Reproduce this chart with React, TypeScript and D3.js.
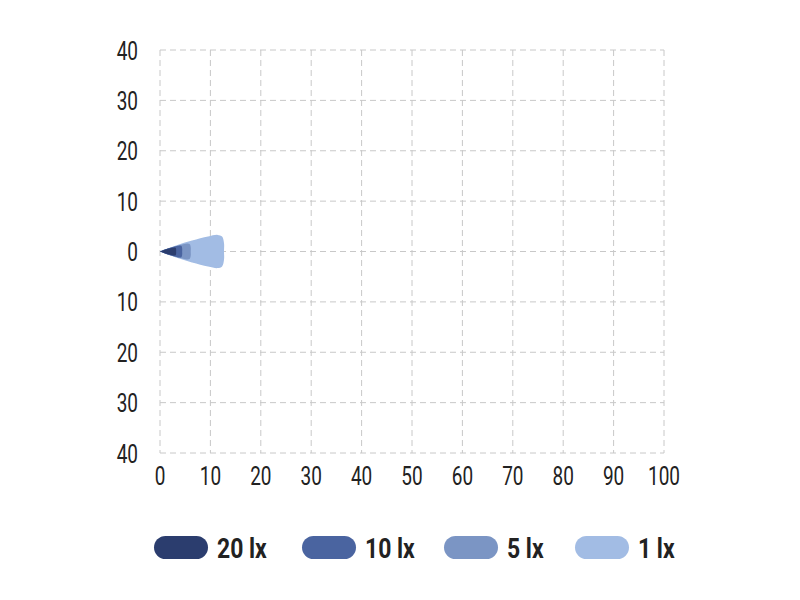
import React from "react";
import * as d3 from "d3";

const luxLevels = ["20 lx", "10 lx", "5 lx", "1 lx"];
const beamReach = [3.2, 4.4, 6.1, 12.7];
const beamHalfWidth = [0.8, 1.2, 1.6, 3.3];
const beamColors = ["#2b3d6e", "#4a64a0", "#7b95c4", "#a2bce4"];
const xTicks = [0, 10, 20, 30, 40, 50, 60, 70, 80, 90, 100];
const yTicks = [40, 30, 20, 10, 0, -10, -20, -30, -40];

const FONT = "Roboto, sans-serif";

export default function App() {
  const W = 800, H = 600;
  const x = d3.scaleLinear().domain([0, 100]).range([160, 664]);
  const y = d3.scaleLinear().domain([40, -40]).range([50, 453]);

  const profile: [number, number][] = [
    [0, 0], [0.25, 0.36], [0.5, 0.66], [0.75, 0.9], [0.9, 1.0], [0.97, 0.9], [1.0, 0.5], [1.0, 0],
  ];
  const line = d3.line<[number, number]>().x(d => x(d[0])).y(d => y(d[1])).curve(d3.curveCatmullRom.alpha(0.5));

  const beamPath = (i: number) => {
    const r = beamReach[i], w = beamHalfWidth[i];
    const top = profile.map(([a, b]) => [a * r, b * w] as [number, number]);
    const bottom = profile.slice(0, -1).reverse().map(([a, b]) => [a * r, -b * w] as [number, number]);
    return line([...top, ...bottom]) || "";
  };

  const legendX = [154, 302, 444, 575];
  const order = [3, 2, 1, 0];
  const tickScale = 0.73;
  const legScale = 0.82;

  return (
    <svg width={W} height={H} style={{ display: "block", position: "absolute", left: 0, top: 0 }}>
      <rect width={W} height={H} fill="#fff" />
      <g stroke="#c8c8c8" strokeWidth={1} strokeDasharray="6,4">
        {xTicks.map(t => (
          <line key={"gx" + t} x1={x(t)} x2={x(t)} y1={y(40)} y2={y(-40)} />
        ))}
        {yTicks.map(t => (
          <line key={"gy" + t} x1={x(0)} x2={x(100)} y1={y(t)} y2={y(t)} />
        ))}
      </g>
      {order.map(i => (
        <path key={"b" + i} d={beamPath(i)} fill={beamColors[i]} />
      ))}
      <g fontFamily={FONT} fontSize={26} fill="#222">
        {yTicks.map(t => (
          <text key={"ty" + t} transform={`translate(138,${y(t) + 9.5}) scale(${tickScale},1)`} textAnchor="end">{Math.abs(t)}</text>
        ))}
        {xTicks.map(t => (
          <text key={"tx" + t} transform={`translate(${x(t)},485) scale(${tickScale},1)`} textAnchor="middle">{t}</text>
        ))}
      </g>
      <g fontFamily={FONT} fontSize={28} fontWeight="bold" fill="#222">
        {luxLevels.map((l, i) => (
          <g key={l} transform={`translate(${legendX[i]},547.5)`}>
            <rect x={0} y={-11.5} width={54} height={23} rx={11.5} fill={beamColors[i]} />
            <text transform={`translate(63,10.5) scale(${legScale},1)`}>{l}</text>
          </g>
        ))}
      </g>
    </svg>
  );
}
